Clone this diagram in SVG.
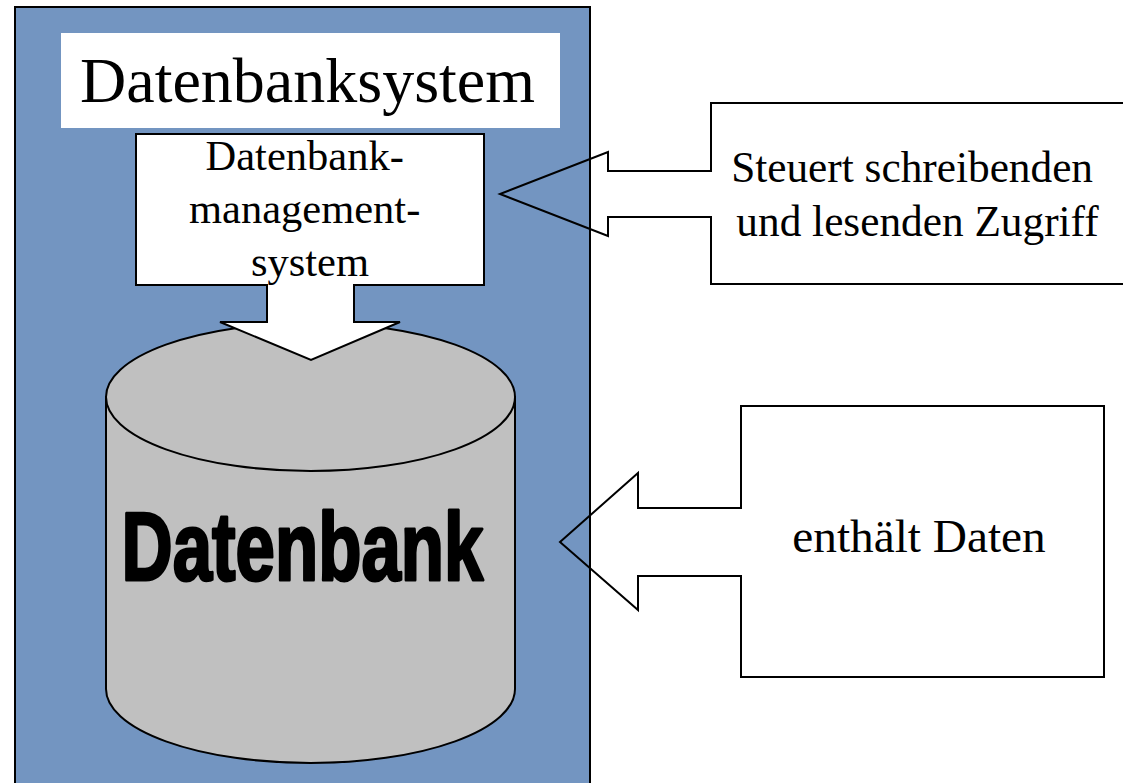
<svg xmlns="http://www.w3.org/2000/svg" width="1123" height="783" viewBox="0 0 1123 783">
  <style>
    .serif { font-family: "Liberation Serif", "Times New Roman", serif; fill: #000; }
    .outline { stroke: #000; stroke-width: 2; stroke-linejoin: miter; }
  </style>
  <rect x="0" y="0" width="1123" height="783" fill="#ffffff"/>
  <g id="system">
    <rect x="15" y="7" width="575" height="790" fill="#7395c1" class="outline"/>
    <rect x="61" y="33" width="499" height="95" fill="#ffffff"/>
    <text class="serif" x="307.5" y="102" font-size="64" text-anchor="middle">Datenbanksystem</text>
  </g>
  <g id="datenbank">
    <path d="M106,397 V689 A204.5,74 0 0 0 515,689 V397 Z" fill="#c0c0c0" class="outline"/>
    <ellipse cx="310.5" cy="397" rx="204.5" ry="74" fill="#c0c0c0" class="outline"/>
    <text x="302.5" y="580" font-family="'Liberation Sans', Arial, sans-serif" font-weight="bold" font-size="97" text-anchor="middle" textLength="362" lengthAdjust="spacingAndGlyphs" fill="#000" stroke="#000" stroke-width="3" stroke-linejoin="round">Datenbank</text>
  </g>
  <g id="dbms">
    <path d="M136,134 H484 V285 H354 V322 H400 L311,360 L220,322 H267 V285 H136 Z" fill="#ffffff" class="outline"/>
    <text class="serif" font-size="42.5" text-anchor="middle">
      <tspan x="310" y="170">Datenbank-</tspan>
      <tspan x="310" y="223">management-</tspan>
      <tspan x="310" y="276">system</tspan>
    </text>
  </g>
  <g id="connectors">
    <path d="M1130,103 H711 V171 H608 V152 L500,194 L608,236 V217 H711 V284 H1130" fill="none" class="outline"/>
    <path d="M741,406 H1104 V677 H741 V576 H638 V610 L560,542 L638,473 V508 H741 Z" fill="none" class="outline"/>
  </g>
  <g id="callout-zugriff">
    <text class="serif" font-size="43.3" text-anchor="middle">
      <tspan x="917.5" y="182">Steuert schreibenden</tspan>
      <tspan x="917.5" y="236">und lesenden Zugriff</tspan>
    </text>
  </g>
  <g id="callout-daten">
    <text class="serif" x="919" y="552" font-size="47.3" text-anchor="middle">enthält Daten</text>
  </g>
</svg>
